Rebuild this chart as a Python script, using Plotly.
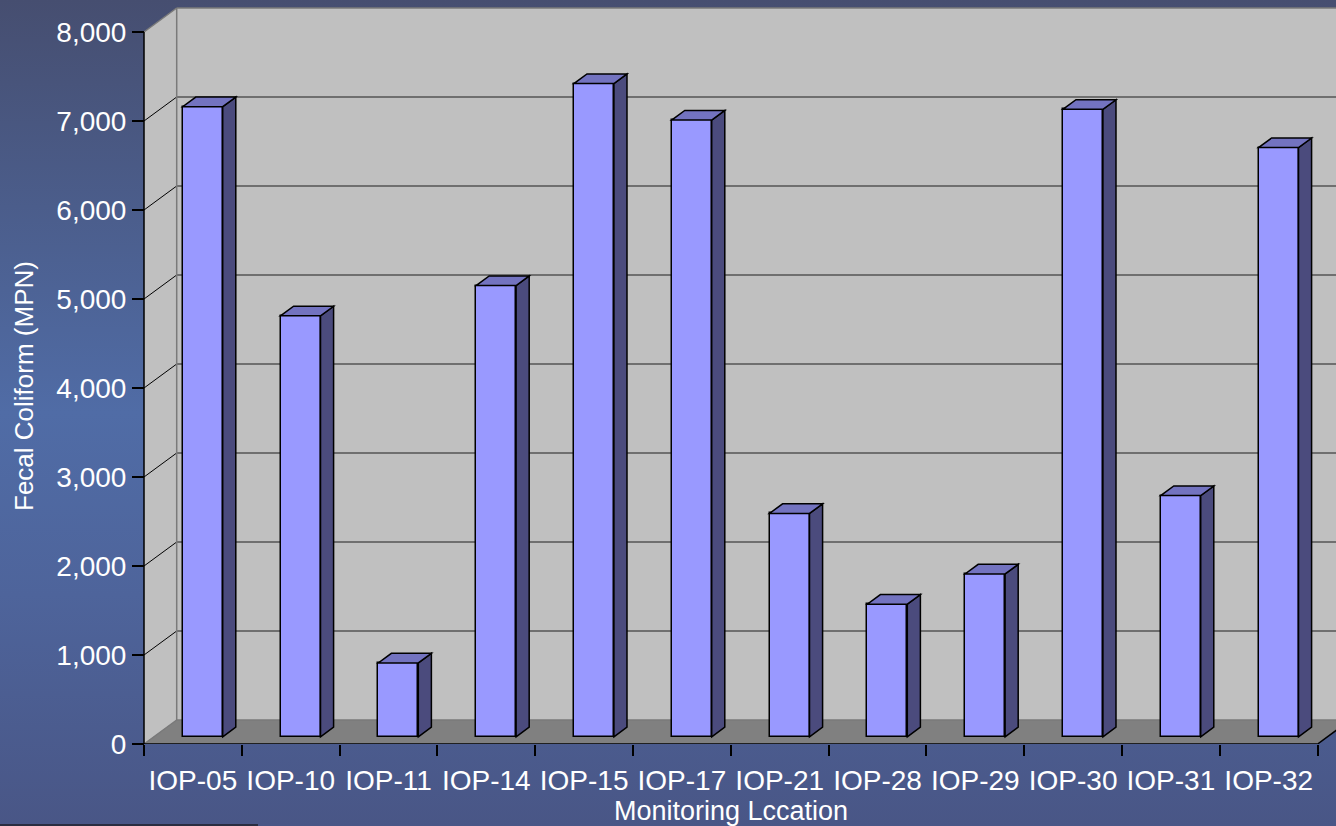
import base64
import plotly.graph_objects as go

# ---- data ----
categories = ["IOP-05", "IOP-10", "IOP-11", "IOP-14", "IOP-15", "IOP-17",
              "IOP-21", "IOP-28", "IOP-29", "IOP-30", "IOP-31", "IOP-32"]
fecal_coliform = [7080, 4730, 830, 5070, 7340, 6930, 2510, 1490, 1830, 7050, 2710, 6620]
y_ticks = [0, 1000, 2000, 3000, 4000, 5000, 6000, 7000, 8000]
y_title = "Fecal Coliform (MPN)"
x_title = "Monitoring Lccation"

# ---- geometry / style ----
W, H = 1336, 826
ML, MB = 100, 82
PW, PH = W - ML, H - MB            # plot area 1236 x 744
PX_CAT = 97.8                      # px per category
PX_K = 89.0                        # px per 1000 units
X0 = -0.5 - (144 - ML) / PX_CAT
X1 = X0 + PW / PX_CAT
YTOP = PH / PX_K * 1000
DX = 32.7 / PX_CAT                 # depth offset (category units)
DY = 24.0 / PX_K * 1000            # depth offset (value units)
D0, D1 = 0.3, 0.7                  # bar depth span
BW = 40 / PX_CAT                   # bar width
YMAX = y_ticks[-1]
n = len(categories)

FRONT = "#9999FF"
SIDE = "#4B4B7D"
TOP = "#7373C0"
WALL = "#C0C0C0"
FLOOR = "#808080"
FONT = "Arial, Liberation Sans, sans-serif"

idx = list(range(n))
bar_x = [i + D0 * DX for i in idx]

fig = go.Figure()
fig.add_trace(go.Bar(
    x=bar_x, y=fecal_coliform, base=D0 * DY, width=BW,
    marker=dict(color=FRONT, line=dict(color="black", width=1.5)),
    hoverinfo="skip", showlegend=False,
))

shapes = []
# walls and floor
shapes.append(dict(type="path", layer="below", xref="x", yref="y",
                   path=f"M{-0.5},{0} L{-0.5},{YMAX} L{-0.5+DX},{YMAX+DY} L{-0.5+DX},{DY} Z",
                   fillcolor=WALL, line=dict(width=0)))
shapes.append(dict(type="path", layer="below", xref="x", yref="y",
                   path=f"M{-0.5+DX},{DY} L{n-0.5+DX},{DY} L{n-0.5+DX},{YMAX+DY} L{-0.5+DX},{YMAX+DY} Z",
                   fillcolor=WALL, line=dict(width=0)))
shapes.append(dict(type="path", layer="below", xref="x", yref="y",
                   path=f"M{-0.5},{0} L{n-0.5},{0} L{n-0.5+DX},{DY} L{-0.5+DX},{DY} Z",
                   fillcolor=FLOOR, line=dict(width=0)))
# gridlines
for k in y_ticks[1:-1]:
    shapes.append(dict(type="line", layer="below", xref="x", yref="y",
                       x0=-0.5 + DX, x1=n - 0.5 + DX, y0=k + DY, y1=k + DY,
                       line=dict(color="#555555", width=1.5)))
    shapes.append(dict(type="line", layer="below", xref="x", yref="y",
                       x0=-0.5, x1=-0.5 + DX, y0=k, y1=k + DY,
                       line=dict(color="black", width=1)))
# wall edges
for (xa, ya, xb, yb) in [(-0.5 + DX, DY, -0.5 + DX, YMAX + DY),
                         (-0.5, YMAX, -0.5 + DX, YMAX + DY),
                         (-0.5 + DX, YMAX + DY, n - 0.5 + DX, YMAX + DY),
                         (-0.5, 0, -0.5 + DX, DY),
                         (-0.5 + DX, DY, n - 0.5 + DX, DY)]:
    shapes.append(dict(type="line", layer="below", xref="x", yref="y",
                       x0=xa, x1=xb, y0=ya, y1=yb,
                       line=dict(color="#7a7a7a", width=1.5)))
# axis lines
shapes.append(dict(type="line", layer="above", xref="x", yref="y",
                   x0=-0.5, x1=-0.5, y0=0, y1=YMAX, line=dict(color="black", width=1.5)))
shapes.append(dict(type="line", layer="above", xref="x", yref="y",
                   x0=-0.5, x1=n - 0.5, y0=0, y1=0, line=dict(color="black", width=1.5)))
shapes.append(dict(type="line", layer="above", xref="x", yref="y",
                   x0=n - 0.5, x1=n - 0.5 + DX, y0=0, y1=DY, line=dict(color="black", width=1.5)))

# bar sides and tops
bdx = (D1 - D0) * DX
bdy = (D1 - D0) * DY
for xc, v in zip(bar_x, fecal_coliform):
    xl = xc - BW / 2
    xr = xc + BW / 2
    b = D0 * DY
    t = v + D0 * DY
    shapes.append(dict(type="path", layer="above", xref="x", yref="y",
                       path=f"M{xr},{b} L{xr+bdx},{b+bdy} L{xr+bdx},{t+bdy} L{xr},{t} Z",
                       fillcolor=SIDE, line=dict(color="black", width=1.5)))
    shapes.append(dict(type="path", layer="above", xref="x", yref="y",
                       path=f"M{xl},{t} L{xr},{t} L{xr+bdx},{t+bdy} L{xl+bdx},{t+bdy} Z",
                       fillcolor=TOP, line=dict(color="black", width=1.5)))

# dark line bottom-left
shapes.append(dict(type="line", layer="above", xref="paper", yref="paper",
                   x0=-ML / PW, x1=(258 - ML) / PW, y0=1 - 825 / PH, y1=1 - 825 / PH,
                   line=dict(color="#2a2d40", width=2)))

svg = f"""<svg xmlns='http://www.w3.org/2000/svg' width='{W}' height='{H}' preserveAspectRatio='none' viewBox='0 0 {W} {H}'>
<defs><linearGradient id='g' x1='0' y1='0' x2='0' y2='1'>
<stop offset='0' stop-color='rgb(70,78,112)'/>
<stop offset='0.5' stop-color='rgb(80,108,166)'/>
<stop offset='0.72' stop-color='rgb(78,100,155)'/>
<stop offset='1' stop-color='rgb(73,86,134)'/>
</linearGradient></defs>
<rect x='0' y='0' width='{W}' height='{H}' fill='url(#g)'/></svg>"""
src = "data:image/svg+xml;base64," + base64.b64encode(svg.encode()).decode()

fig.update_layout(
    width=W, height=H,
    margin=dict(l=ML, r=0, t=0, b=MB, pad=0),
    paper_bgcolor="rgb(78,98,150)",
    plot_bgcolor="rgba(0,0,0,0)",
    shapes=shapes,
    images=[dict(source=src, xref="paper", yref="paper",
                 x=-ML / PW, y=1, sizex=W / PW, sizey=H / PH,
                 xanchor="left", yanchor="top", sizing="stretch", layer="below")],
    font=dict(family=FONT, color="white", size=28),
    showlegend=False,
    bargap=0,
    xaxis=dict(range=[X0, X1], tickvals=idx, ticktext=categories,
               ticks="outside", ticklen=11, tickcolor="rgba(0,0,0,0)",
               minor=dict(tickvals=[i - 0.5 for i in range(n + 1)], ticks="outside",
                          ticklen=11, tickcolor="black", tickwidth=1.5, showgrid=False),
               showgrid=False, zeroline=False, showline=False,
               tickfont=dict(size=28, color="white", family=FONT),
               automargin=False, fixedrange=True),
    yaxis=dict(range=[0, YTOP], tickvals=y_ticks, tickformat=",",
               ticks="outside", ticklen=12, tickcolor="black", tickwidth=1.5,
               showgrid=False, zeroline=False, showline=False,
               anchor="free", position=(144 - ML) / PW,
               tickfont=dict(size=28, color="white", family=FONT),
               automargin=False, fixedrange=True),
    annotations=[
        dict(text=y_title, xref="paper", yref="paper", x=(24 - ML) / PW, y=1 - 386 / PH,
             xanchor="center", yanchor="middle", textangle=-90, showarrow=False,
             font=dict(size=26, color="white", family=FONT)),
        dict(text=x_title, xref="paper", yref="paper", x=(731 - ML) / PW, y=1 - 811 / PH,
             xanchor="center", yanchor="middle", showarrow=False,
             font=dict(size=27, color="white", family=FONT)),
    ],
)

fig.write_html("out.html")
